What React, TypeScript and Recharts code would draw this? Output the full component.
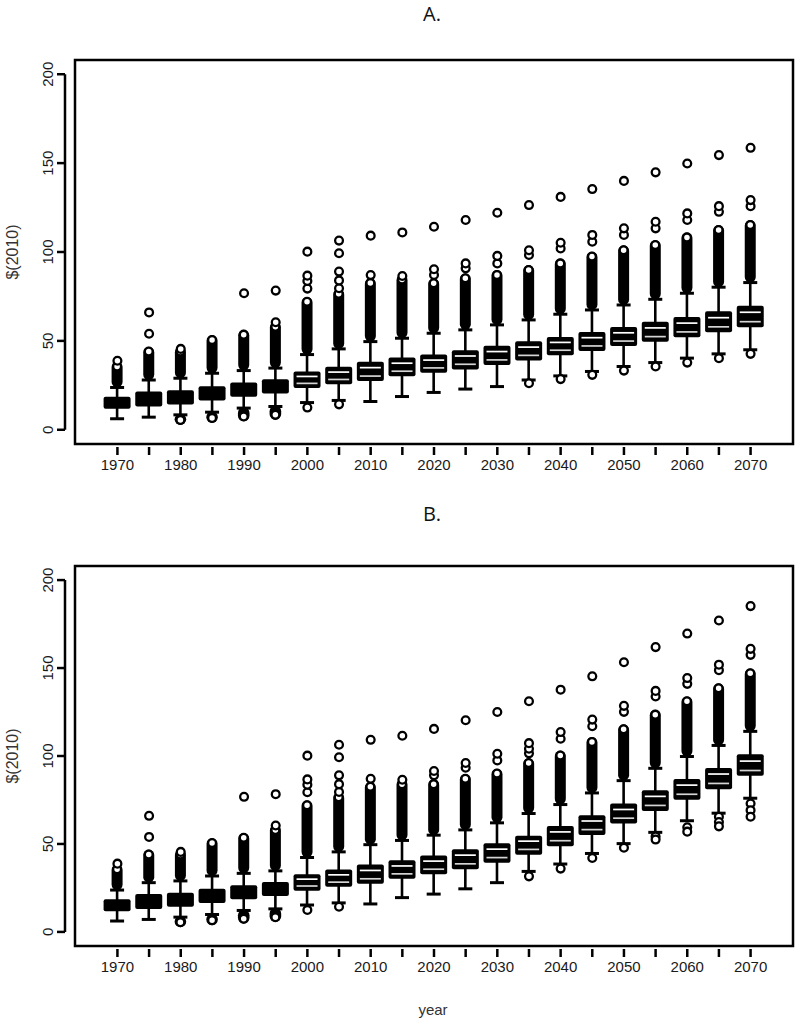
import React from 'react';
import { ComposedChart, Bar, Scatter, XAxis, YAxis, ReferenceArea, ReferenceLine } from 'recharts';

// ---------- categories & ticks ----------
const YEARS = [1970, 1975, 1980, 1985, 1990, 1995, 2000, 2005, 2010, 2015, 2020, 2025, 2030, 2035, 2040, 2045, 2050, 2055, 2060, 2065, 2070];
const X_LABEL_YEARS = [1970, 1980, 1990, 2000, 2010, 2020, 2030, 2040, 2050, 2060, 2070];
const Y_TICKS = [0, 50, 100, 150, 200];

// ---------- Panel A ----------
const A_Q1 = [12.5, 13.8, 15.0, 17.2, 19.3, 21.2, 24.2, 26.4, 28.1, 30.9, 32.8, 34.7, 37.1, 39.7, 42.7, 45.0, 47.8, 50.2, 52.8, 55.6, 58.4];
const A_MED = [15.0, 17.0, 18.2, 20.5, 22.5, 24.3, 28.0, 30.2, 32.3, 35.0, 36.8, 39.0, 41.5, 44.0, 46.8, 49.3, 52.0, 54.6, 57.3, 60.2, 63.2];
const A_Q3 = [17.8, 20.8, 21.5, 23.8, 25.8, 27.7, 32.0, 34.7, 37.6, 39.9, 41.6, 44.0, 46.5, 49.0, 51.5, 54.3, 57.1, 60.0, 62.7, 65.9, 69.0];
const A_LO = [6.2, 7.1, 8.4, 9.9, 12.2, 13.1, 15.3, 16.5, 15.9, 18.7, 21.0, 22.9, 24.3, 28.0, 30.3, 32.8, 35.6, 37.8, 40.3, 42.7, 45.0];
const A_HI = [23.8, 28.0, 29.0, 31.8, 33.3, 34.7, 42.3, 45.5, 49.6, 51.5, 54.3, 56.2, 59.0, 61.8, 65.0, 67.4, 70.2, 73.4, 76.8, 80.2, 82.8];
const A_DENSE_TOP = [35.6, 44.0, 44.0, 50.5, 53.5, 58.0, 72.0, 76.5, 82.5, 84.5, 82.4, 85.2, 87.1, 89.9, 93.6, 97.4, 101.0, 103.9, 108.2, 112.4, 115.2];
const A_LOW_DENSE: (number | null)[] = [null, null, 5.5, 6.6, 7.5, 8.4, null, null, null, null, null, null, null, null, null, null, null, null, null, null, null];
const A_OUTLIERS = [[38.8], [54, 66], [45.5], [], [76.8], [60.5, 78.3], [79.4, 83.7, 86.7, 100.2], [79.6, 84, 89, 99.3, 106.4], [87, 109.2], [86.5, 111], [87.1, 90.3, 114.2], [90.8, 93.6, 118], [93.6, 97.8, 122.1], [98.3, 101, 126.4], [102, 105.2, 131], [105.8, 109.6, 135.4], [109.6, 113.3, 140], [113.3, 117, 144.8], [118, 121.7, 149.8], [122.6, 125.8, 154.5], [125.8, 129.2, 158.6]];
const A_LOW_OUTLIERS = [[], [], [], [], [], [], [12.5], [14.3], [], [], [], [], [], [26.2], [28.5], [30.9], [33.3], [35.6], [37.8], [40.3], [42.7]];

// ---------- Panel B ----------
const B_Q1 = [12.5, 13.8, 15.0, 17.2, 19.3, 21.2, 24.2, 26.4, 28.1, 31.0, 33.5, 36.4, 40.0, 44.6, 49.5, 55.8, 62.3, 69.5, 75.8, 81.8, 89.5];
const B_MED = [15.0, 17.0, 18.2, 20.5, 22.5, 24.3, 28.0, 30.2, 32.3, 35.0, 37.8, 41.0, 44.5, 49.2, 54.2, 60.5, 67.0, 74.3, 80.7, 87.0, 94.0];
const B_Q3 = [17.8, 20.8, 21.5, 23.8, 25.8, 27.7, 32.0, 34.7, 37.6, 40.0, 42.7, 46.3, 49.6, 54.0, 59.5, 65.6, 72.2, 79.8, 86.2, 92.5, 100.2];
const B_LO = [6.2, 7.1, 8.4, 9.9, 12.2, 13.1, 15.3, 16.5, 15.9, 19.5, 21.5, 24.5, 28.0, 34.4, 38.6, 44.6, 50.2, 56.6, 63.2, 67.5, 76.0];
const B_HI = [23.8, 28.0, 29.0, 31.8, 33.3, 34.7, 42.3, 45.5, 49.6, 52.0, 55.0, 58.0, 62.0, 67.3, 72.4, 79.0, 86.0, 93.0, 99.7, 106.0, 114.0];
const B_DENSE_TOP = [35.6, 44.0, 44.0, 50.5, 53.5, 58.0, 72.0, 76.5, 82.5, 84.0, 84.0, 87.0, 90.0, 96.0, 100.3, 108.0, 115.2, 123.5, 131.1, 138.5, 147.0];
const B_LOW_DENSE: (number | null)[] = [null, null, 5.5, 6.6, 7.5, 8.4, null, null, null, null, null, null, null, null, null, null, null, null, null, null, null];
const B_OUTLIERS = [[38.8], [54, 66], [45.5], [], [76.8], [60.5, 78.3], [79.4, 83.7, 86.7, 100.2], [79.6, 84, 89, 99.3, 106.4], [87, 109.2], [86.5, 111.5], [89, 91.5, 115.4], [93.3, 96, 120.3], [97.5, 101.3, 125], [101.5, 104.1, 107.3, 131.1], [109.8, 113.6, 137.7], [116.9, 120.7, 145.3], [125.1, 128.5, 153.3], [133.8, 137, 161.9], [141, 144.3, 169.6], [148.8, 151.9, 177], [157.5, 160.9, 185.2]];
const B_LOW_OUTLIERS = [[], [], [], [], [], [], [12.5], [14.3], [], [], [], [], [], [31.6], [36], [42], [47.9], [54.3, 52.5], [59.5, 57], [65.5, 62.5, 60], [73, 69.2, 65.5]];

// ---------- axis ranges (R style, 4% extension) ----------
const X_MIN = 1963.3;
const X_MAX = 2076.7;
const Y_MIN = -8;
const Y_MAX = 208;
const AXIS_LINE_X = X_MIN - 1.58; // R y-axis drawn slightly left of the box

const AXIS_FONT = '"Liberation Sans", Arial, Helvetica, sans-serif';

function buildRows(q1: number[], med: number[], q3: number[], lo: number[], hi: number[], top: number[], lowDense: (number | null)[]) {
  return YEARS.map((year, i) => ({
    year,
    q1: q1[i],
    med: med[i],
    q3: q3[i],
    lo: lo[i],
    hi: hi[i],
    top: top[i],
    lowDense: lowDense[i],
    range: [lowDense[i] != null ? (lowDense[i] as number) : lo[i], top[i]],
  }));
}

function buildPoints(list: number[][]) {
  const pts: { year: number; v: number }[] = [];
  YEARS.forEach((year, i) => list[i].forEach((v) => pts.push({ year, v })));
  return pts;
}

const ROWS_A = buildRows(A_Q1, A_MED, A_Q3, A_LO, A_HI, A_DENSE_TOP, A_LOW_DENSE);
const ROWS_B = buildRows(B_Q1, B_MED, B_Q3, B_LO, B_HI, B_DENSE_TOP, B_LOW_DENSE);
const UP_A = buildPoints(A_OUTLIERS);
const LOW_A = buildPoints(A_LOW_OUTLIERS);
const UP_B = buildPoints(B_OUTLIERS);
const LOW_B = buildPoints(B_LOW_OUTLIERS);

const R = 3.9;
const SW = 2.3;

function BoxShape(props: any) {
  const { x, y, width, height } = props;
  const d = props.payload ?? props;
  if (!d || !d.range || x == null || y == null || height == null) return null;
  const v0 = d.range[0];
  const v1 = d.range[1];
  const top = Math.min(y, y + height);
  const bot = Math.max(y, y + height);
  const py = (v: number) => bot - ((v - v0) / (v1 - v0)) * (bot - top);
  const cx = x + width / 2;
  const yq1 = py(d.q1);
  const yq3 = py(d.q3);
  const ymed = py(d.med);
  const ylo = py(d.lo);
  const yhi = py(d.hi);
  const ytop = py(d.top);
  const boxH = yq1 - yq3;
  return (
    <g>
      {/* lower whisker */}
      <line x1={cx} x2={cx} y1={yq1} y2={ylo} stroke="#000" strokeWidth={2.6} />
      {d.lowDense != null ? (
        <g>
          <rect x={cx - 5.8} y={ylo - 1} width={11.6} height={py(d.lowDense) + R + 1 - ylo + 1} rx={5.8} fill="#000" />
          <circle cx={cx} cy={py(d.lowDense)} r={R} fill="#fff" stroke="#000" strokeWidth={SW} />
        </g>
      ) : null}
      <line x1={cx - 7} x2={cx + 7} y1={ylo} y2={ylo} stroke="#000" strokeWidth={3} />
      {/* upper whisker */}
      <line x1={cx} x2={cx} y1={yq3} y2={yhi} stroke="#000" strokeWidth={2.6} />
      {/* dense run of outliers */}
      <rect x={cx - 5.5} y={ytop - R - 1} width={11} height={yhi - (ytop - R - 1)} rx={5.5} fill="#000" />
      <circle cx={cx} cy={ytop} r={R} fill="#fff" stroke="#000" strokeWidth={SW} />
      <line x1={cx - 7} x2={cx + 7} y1={yhi} y2={yhi} stroke="#000" strokeWidth={3} />
      {/* box */}
      <rect x={cx - 13.5} y={yq3 - 1.3} width={27} height={boxH + 2.6} rx={2} fill="#000" />
      {boxH > 12.5 ? (
        <g>
          <line x1={cx - 10.5} x2={cx + 10.5} y1={(yq3 + ymed) / 2} y2={(yq3 + ymed) / 2} stroke="#fff" strokeWidth={1.7} />
          <line x1={cx - 10.5} x2={cx + 10.5} y1={(ymed + yq1) / 2} y2={(ymed + yq1) / 2} stroke="#d4d4d4" strokeWidth={1.7} />
        </g>
      ) : null}
    </g>
  );
}

function renderCircle(p: any) {
  if (p.cx == null || p.cy == null) return <g />;
  return <circle cx={p.cx} cy={p.cy} r={R} fill="#fff" stroke="#000" strokeWidth={SW} />;
}

function XTick(p: any) {
  const { x, y, payload } = p;
  const v = payload.value;
  return (
    <g>
      <line x1={x} x2={x} y1={y + 3} y2={y + 11} stroke="#000" strokeWidth={2.5} />
      {X_LABEL_YEARS.includes(v) ? (
        <text x={x} y={y + 20.5} textAnchor="middle" dominantBaseline="central" fontSize={15} fontFamily={AXIS_FONT} fill="#1a1a1a">
          {v}
        </text>
      ) : null}
    </g>
  );
}

function YTick(p: any) {
  const { x, y, payload } = p;
  const tx = x - 27.5;
  return (
    <g>
      <line x1={x - 18} x2={x - 10} y1={y} y2={y} stroke="#000" strokeWidth={2.5} />
      <text x={tx} y={y} transform={`rotate(-90 ${tx} ${y})`} textAnchor="middle" dominantBaseline="central" fontSize={15} fontFamily={AXIS_FONT} fill="#1a1a1a">
        {payload.value}
      </text>
    </g>
  );
}

function BoxPanel(props: { rows: any[]; up: any[]; low: any[]; height: number; marginTop: number; marginBottom: number }) {
  const { rows, up, low, height, marginTop, marginBottom } = props;
  return (
    <ComposedChart width={800} height={height} data={rows} margin={{ top: marginTop, right: 7, bottom: marginBottom, left: 0 }}>
      <XAxis
        dataKey="year"
        type="number"
        domain={[X_MIN, X_MAX]}
        ticks={YEARS}
        interval={0}
        allowDataOverflow
        axisLine={false}
        tickLine={false}
        tickSize={0}
        tickMargin={0}
        height={30}
        tick={(p: any) => <XTick {...p} />}
      />
      <YAxis
        type="number"
        domain={[Y_MIN, Y_MAX]}
        ticks={Y_TICKS}
        interval={0}
        allowDataOverflow
        axisLine={false}
        tickLine={false}
        tickSize={0}
        tickMargin={0}
        width={75}
        tick={(p: any) => <YTick {...p} />}
      />
      <ReferenceArea x1={X_MIN} x2={X_MAX} y1={Y_MIN} y2={Y_MAX} fill="none" fillOpacity={0} stroke="#000" strokeWidth={2.5} ifOverflow="visible" />
      <ReferenceLine
        segment={[
          { x: AXIS_LINE_X, y: 0 },
          { x: AXIS_LINE_X, y: 200 },
        ]}
        stroke="#000"
        strokeWidth={2.5}
        ifOverflow="visible"
      />
      <Bar dataKey="range" barSize={27} shape={(p: any) => <BoxShape {...p} />} isAnimationActive={false} />
      <Scatter data={up} dataKey="v" shape={renderCircle} isAnimationActive={false} />
      <Scatter data={low} dataKey="v" shape={renderCircle} isAnimationActive={false} />
    </ComposedChart>
  );
}

export default function App() {
  return (
    <div style={{ position: 'absolute', left: 0, top: 0, width: 800, height: 1028, background: '#fff', overflow: 'hidden' }}>
      <div style={{ position: 'absolute', left: 0, top: 0 }}>
        <BoxPanel rows={ROWS_A} up={UP_A} low={LOW_A} height={480} marginTop={60} marginBottom={6} />
      </div>
      <div style={{ position: 'absolute', left: 0, top: 500 }}>
        <BoxPanel rows={ROWS_B} up={UP_B} low={LOW_B} height={528} marginTop={66} marginBottom={52} />
      </div>
      <svg width={800} height={1028} style={{ position: 'absolute', left: 0, top: 0, pointerEvents: 'none' }}>
        <text x={432} y={20.5} textAnchor="middle" fontSize={20} fontFamily='"Open Sans", "Noto Sans", sans-serif' fill="#111">A.</text>
        <text x={432} y={521} textAnchor="middle" fontSize={20} fontFamily='"Open Sans", "Noto Sans", sans-serif' fill="#111">B.</text>
        <text x={12} y={252} transform="rotate(-90 12 252)" textAnchor="middle" dominantBaseline="central" fontSize={16} fontFamily={AXIS_FONT} fill="#333">$(2010)</text>
        <text x={12} y={756} transform="rotate(-90 12 756)" textAnchor="middle" dominantBaseline="central" fontSize={16} fontFamily={AXIS_FONT} fill="#333">$(2010)</text>
        <text x={433} y={1015} textAnchor="middle" fontSize={15} fontFamily={AXIS_FONT} fill="#333">year</text>
      </svg>
    </div>
  );
}
